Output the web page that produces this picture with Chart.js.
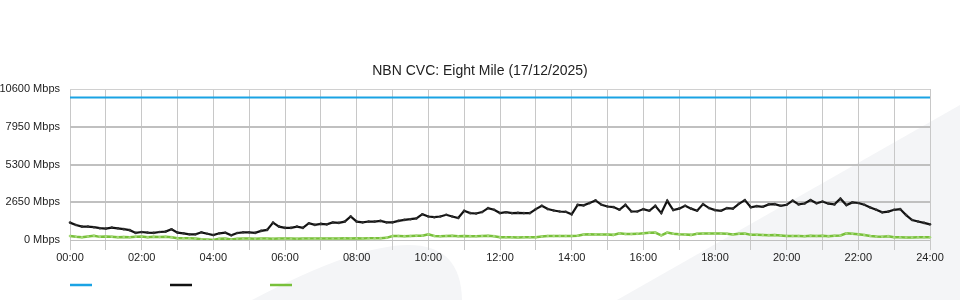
<!DOCTYPE html>
<html>
<head>
<meta charset="utf-8">
<script src="https://cdn.jsdelivr.net/npm/chart.js@4"></script>
<style>
  html, body { margin: 0; padding: 0; background: #fff; }
  #wrap { width: 960px; height: 300px; position: relative; }
</style>
</head>
<body>
<div id="wrap"><canvas id="chart-cvc"></canvas></div>
<script>
// time labels every 10 minutes, 00:00 .. 24:00
const timeLabels = [];
for (let m = 0; m <= 1440; m += 10) {
  const h = String(Math.floor(m / 60)).padStart(2, '0');
  const mm = String(m % 60).padStart(2, '0');
  timeLabels.push(`${h}:${mm}`);
}

const chartTitle = 'NBN CVC: Eight Mile (17/12/2025)';
const yTicks = [0, 2650, 5300, 7950, 10600];

// CVC capacity (blue)
const capacityTimes = ['00:00', '24:00'];
const capacity = [10000, 10000];

// download traffic (black), Mbps every 10 min
const download = [
  1220, 1050, 940, 940, 900, 830,
  800, 870, 820, 760, 690, 500,
  560, 520, 500, 560, 590, 750,
  520, 470, 400, 400, 540, 440,
  350, 470, 510, 330, 490, 540,
  540, 500, 640, 710, 1220, 940,
  850, 850, 940, 850, 1180, 1060,
  1130, 1100, 1230, 1200, 1290, 1650,
  1290, 1240, 1300, 1290, 1340, 1240,
  1240, 1340, 1410, 1460, 1520, 1810,
  1650, 1600, 1650, 1770, 1650, 1540,
  2050, 1890, 1860, 1960, 2240, 2120,
  1890, 1950, 1890, 1910, 1890, 1890,
  2170, 2400, 2170, 2070, 2000, 1980,
  1800, 2470, 2430, 2590, 2780, 2470,
  2350, 2310, 2120, 2470, 2000, 2000,
  2170, 2050, 2400, 1890, 2750, 2100,
  2200, 2400, 2200, 2050, 2520, 2240,
  2100, 2050, 2240, 2200, 2540, 2800,
  2300, 2380, 2330, 2500, 2520, 2400,
  2470, 2760, 2500, 2560, 2800, 2580,
  2700, 2550, 2500, 2900, 2450, 2640,
  2600, 2470, 2280, 2120, 1940, 1990,
  2120, 2170, 1750, 1400, 1300, 1200,
  1100
];

// upload traffic (green), Mbps every 10 min
const upload = [
  280, 230, 190, 250, 300, 220,
  240, 230, 200, 210, 190, 220,
  240, 200, 220, 210, 230, 200,
  120, 120, 120, 100, 50, 30,
  0, 90, 100, 40, 90, 100,
  100, 90, 100, 100, 90, 100,
  100, 100, 90, 100, 100, 100,
  100, 110, 100, 110, 120, 110,
  120, 110, 120, 120, 130, 150,
  280, 280, 270, 280, 290, 300,
  400, 280, 260, 280, 300, 260,
  280, 270, 260, 280, 290, 270,
  200, 190, 190, 180, 190, 190,
  190, 240, 280, 280, 280, 280,
  280, 300, 380, 400, 380, 390,
  390, 360, 470, 420, 420, 430,
  470, 510, 520, 330, 520, 440,
  400, 380, 360, 440, 450, 450,
  450, 450, 440, 380, 440, 450,
  360, 360, 350, 340, 350, 320,
  280, 280, 280, 270, 290, 280,
  290, 270, 300, 320, 470, 440,
  400, 350, 280, 240, 230, 270,
  190, 190, 180, 180, 190, 190,
  190
];

const BLUE = '#1aa3e4';
const BLACK = '#111111';
const GREEN = '#78c03a';
const FONT = 'Liberation Sans, Arial, sans-serif';

// faint watermark shapes behind the plot
const watermark = {
  id: 'watermark',
  beforeDraw(chart) {
    const ctx = chart.ctx;
    ctx.save();
    ctx.fillStyle = '#fff';
    ctx.fillRect(0, 0, chart.width, chart.height);
    ctx.fillStyle = '#f4f5f7';
    ctx.beginPath();
    ctx.moveTo(617, 300);
    ctx.lineTo(960, 105);
    ctx.lineTo(960, 300);
    ctx.closePath();
    ctx.fill();
    ctx.beginPath();
    ctx.moveTo(252, 300);
    ctx.quadraticCurveTo(460, 190, 462, 300);
    ctx.closePath();
    ctx.fill();
    ctx.restore();
  }
};

// centred title over the whole canvas + legend strokes without text
const titleAndLegend = {
  id: 'titleAndLegend',
  afterDraw(chart) {
    const ctx = chart.ctx;
    ctx.save();
    ctx.fillStyle = '#222';
    ctx.font = `14px ${FONT}`;
    ctx.textAlign = 'center';
    ctx.textBaseline = 'middle';
    ctx.fillText(chartTitle, chart.width / 2, 71);

    ctx.lineWidth = 2.5;
    chart.data.datasets.forEach((ds, i) => {
      ctx.strokeStyle = ds.borderColor;
      ctx.beginPath();
      ctx.moveTo(70 + i * 100, 285);
      ctx.lineTo(92 + i * 100, 285);
      ctx.stroke();
    });
    ctx.restore();
  }
};

new Chart(document.getElementById('chart-cvc'), {
  type: 'line',
  data: {
    labels: timeLabels,
    datasets: [
      {
        data: capacityTimes.map((t, i) => ({ x: t, y: capacity[i] })),
        borderColor: BLUE,
        borderWidth: 2,
        pointRadius: 0,
      },
      {
        data: download,
        borderColor: BLACK,
        borderWidth: 2.2,
        pointRadius: 1.3,
        pointBorderWidth: 0,
        pointBackgroundColor: '#333',
      },
      {
        data: upload,
        borderColor: GREEN,
        borderWidth: 2.5,
        pointRadius: 1.3,
        pointBorderWidth: 0,
        pointBackgroundColor: '#a6d87a',
      }
    ]
  },
  options: {
    responsive: true,
    maintainAspectRatio: false,
    animation: false,
    layout: { padding: { left: 0, right: 30, top: 89, bottom: 0 } },
    elements: { line: { tension: 0 } },
    scales: {
      x: {
        type: 'category',
        offset: false,
        afterFit: s => { s.height = 60; },
        grid: {
          color: ctx => (ctx.index % 6 === 0 ? '#c8c8c8' : 'rgba(0,0,0,0)'),
          lineWidth: 1,
          tickLength: 10,
        },
        border: { display: false },
        ticks: {
          autoSkip: false,
          maxRotation: 0,
          padding: 1,
          color: '#222',
          font: { family: FONT, size: 11 },
          callback: (v, i) => (i % 12 === 0 ? timeLabels[i] : ''),
        }
      },
      y: {
        min: 0,
        max: 10600,
        afterFit: s => { s.width = 70; },
        afterBuildTicks: s => { s.ticks = yTicks.map(v => ({ value: v })); },
        grid: {
          drawTicks: false,
          color: ctx => (ctx.tick && ctx.tick.value === 10600 ? '#d0d0d0' : '#c0c0c0'),
          lineWidth: ctx => (ctx.tick && (ctx.tick.value === 10600 || ctx.tick.value === 0) ? 1 : 2),
        },
        border: { display: false },
        ticks: {
          padding: 10,
          color: '#222',
          font: { family: FONT, size: 11 },
          callback: v => `${v} Mbps`,
        }
      }
    },
    plugins: {
      legend: { display: false },
      tooltip: { enabled: false },
      title: { display: false }
    }
  },
  plugins: [watermark, titleAndLegend]
});
</script>
</body>
</html>
